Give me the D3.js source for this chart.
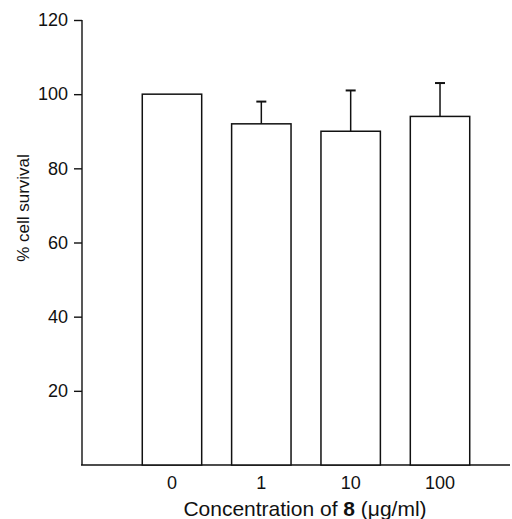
<!DOCTYPE html>
<html>
<head>
<meta charset="utf-8">
<script src="https://cdn.jsdelivr.net/npm/d3@7"></script>
<style>
  body { margin: 0; background: #fff; }
  svg { display: block; font-family: "Liberation Sans", Arial, sans-serif; }
</style>
</head>
<body>
<svg id="chart" width="512" height="519"></svg>
<script>
// data
var concentrations = ["0", "1", "10", "100"];
var survival = [100, 92, 90, 94];
var errors = [0, 6, 11, 9];
var yTicks = [20, 40, 60, 80, 100, 120];

var rows = concentrations.map(function (c, i) {
    return {conc: c, value: survival[i], err: errors[i]};
});

var svg = d3.select("#chart");

var y = d3.scaleLinear()
    .domain([0, 120])
    .range([465, 20]);

var x = d3.scaleBand()
    .domain(concentrations)
    .range([127.3, 484.7])
    .paddingInner(0.335)
    .paddingOuter(0.1676);

function cx(d) { return x(d.conc) + x.bandwidth() / 2; }

// y axis
var yAxis = svg.append("g")
    .attr("transform", "translate(82,0)")
    .call(d3.axisLeft(y).tickValues(yTicks).tickSize(8).tickPadding(6).tickSizeOuter(0))
yAxis.select(".domain").remove();
yAxis.selectAll(".tick line").attr("stroke", "#111").attr("stroke-width", 1.4);
yAxis.selectAll(".tick text").attr("font-size", "18px").attr("fill", "#111");

svg.append("line")
    .attr("x1", 82).attr("x2", 82)
    .attr("y1", y(120)).attr("y2", y(0))
    .attr("stroke", "#111").attr("stroke-width", 1.4);

// x axis (line runs to the right edge)
svg.append("line")
    .attr("x1", 81).attr("x2", 510)
    .attr("y1", y(0)).attr("y2", y(0))
    .attr("stroke", "#111").attr("stroke-width", 1.4);

svg.selectAll(".xlab")
    .data(rows)
    .enter().append("text")
    .attr("class", "xlab")
    .attr("x", cx)
    .attr("y", 489)
    .attr("text-anchor", "middle")
    .attr("font-size", "18px")
    .attr("fill", "#111")
    .text(function (d) { return d.conc; });

// bars
svg.selectAll(".bar")
    .data(rows)
    .enter().append("rect")
    .attr("class", "bar")
    .attr("x", function (d) { return x(d.conc); })
    .attr("y", function (d) { return y(d.value); })
    .attr("width", x.bandwidth())
    .attr("height", function (d) { return y(0) - y(d.value); })
    .attr("fill", "#fff")
    .attr("stroke", "#111")
    .attr("stroke-width", 1.5);

// error bars, upper only
var err = svg.selectAll(".err")
    .data(rows.filter(function (d) { return d.err > 0; }))
    .enter().append("g")
    .attr("class", "err");

err.append("line")
    .attr("x1", cx)
    .attr("x2", cx)
    .attr("y1", function (d) { return y(d.value); })
    .attr("y2", function (d) { return y(d.value + d.err); })
    .attr("stroke", "#111").attr("stroke-width", 1.5);

err.append("line")
    .attr("x1", function (d) { return cx(d) - 5; })
    .attr("x2", function (d) { return cx(d) + 5; })
    .attr("y1", function (d) { return y(d.value + d.err); })
    .attr("y2", function (d) { return y(d.value + d.err); })
    .attr("stroke", "#111").attr("stroke-width", 2);

// axis titles
var xt = svg.append("text")
    .attr("x", 305)
    .attr("y", 516)
    .attr("text-anchor", "middle")
    .attr("font-size", "21px")
    .attr("fill", "#111");
xt.append("tspan").text("Concentration of ");
xt.append("tspan").attr("font-weight", "bold").text("8");
xt.append("tspan").text(" (\u03bcg/ml)");

svg.append("text")
    .attr("transform", "translate(29,208) rotate(-90)")
    .attr("text-anchor", "middle")
    .attr("font-size", "17px")
    .attr("fill", "#111")
    .text("% cell survival");
</script>
</body>
</html>
